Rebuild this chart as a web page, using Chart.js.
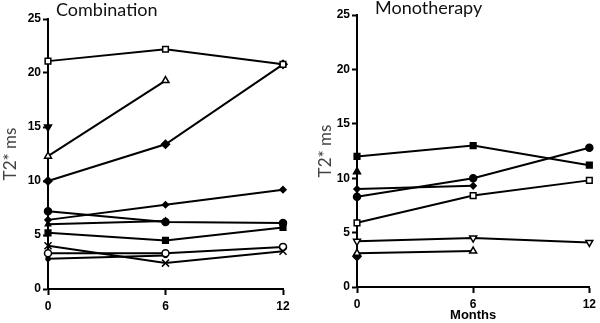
<!DOCTYPE html>
<html>
<head>
<meta charset="utf-8">
<script src="https://cdn.jsdelivr.net/npm/chart.js@4"></script>
<style>
body { margin: 0; background: #fff; width: 600px; height: 323px; overflow: hidden; }
.panel { position: absolute; top: 0; width: 300px; height: 323px; }
</style>
</head>
<body>
<div class="panel" style="left:0"><canvas id="combo-chart" width="300" height="323"></canvas></div>
<div class="panel" style="left:300px"><canvas id="mono-chart" width="300" height="323"></canvas></div>
<script>
// x positions (months)
const months = [0, 6, 12];

// Combination group, T2* ms per patient
const comboOpenSquare = [21.1, 22.2, 20.8];
const comboOpenTriangle = [12.3, 19.3, null];
const comboDownTriangle = [15.0, null, null];
const comboDiamond = [10.0, 13.4, 20.8];
const comboSmallDiamond = [6.4, 7.8, 9.2];
const comboCircle = [7.2, 6.2, 6.1];
const comboSmallTriangle = [6.0, 6.3, null];
const comboSquare = [5.2, 4.5, 5.7];
const comboCross = [4.0, 2.4, 3.5];
const comboOpenCircle = [3.3, 3.3, 3.9];
const comboPlain = [2.8, 3.1, null];

// Monotherapy group
const monoSquare = [12.0, 13.0, 11.2];
const monoCircle = [8.3, 10.0, 12.8];
const monoSmallDiamond = [9.0, 9.3, null];
const monoOpenSquare = [5.9, 8.4, 9.8];
const monoOpenDownTriangle = [4.2, 4.5, 4.1];
const monoOpenTriangle = [3.1, 3.3, null];
const monoTriangle = [10.6, null, null];
const monoDiamond = [2.8, null, null];

const yTicks = [0, 5, 10, 15, 20, 25];

function series(label, values, shape, open, radius, rotation) {
    return {
        label: label,
        data: months.map((m, i) => ({ x: m, y: values[i] })),
        borderColor: '#000',
        borderWidth: 2,
        pointStyle: shape,
        pointRadius: radius || 4,
        pointRotation: rotation || 0,
        pointBorderColor: '#000',
        pointBorderWidth: 1.5,
        pointBackgroundColor: open ? '#fff' : '#000',
        clip: false
    };
}

// draws the panel heading next to the y axis
const panelTitle = {
    id: 'panelTitle',
    afterDraw(chart, args, opts) {
        const ctx = chart.ctx;
        ctx.save();
        ctx.font = opts.font;
        ctx.fillStyle = '#111';
        ctx.textBaseline = 'alphabetic';
        ctx.fillText(opts.text, chart.chartArea.left + opts.dx, opts.y);
        ctx.restore();
    }
};

function makeOptions(title, titleDx, titleY, pad, yWidth, xHeight, xTitle) {
    return {
        responsive: false,
        animation: false,
        layout: { padding: pad },
        plugins: {
            legend: { display: false },
            tooltip: { enabled: false },
            panelTitle: { text: title, dx: titleDx, y: titleY, font: '18px Lato' }
        },
        scales: {
            x: {
                type: 'linear',
                min: 0,
                max: 12,
                ticks: { stepSize: 6, color: '#000', padding: 4, font: { family: 'Liberation Sans', size: 12, weight: 'bold' } },
                grid: { drawOnChartArea: false, tickLength: 6, tickWidth: 2, tickColor: '#000' },
                border: { color: '#000', width: 2 },
                title: {
                    display: !!xTitle,
                    text: xTitle,
                    color: '#000',
                    padding: { top: 3, bottom: 0 },
                    font: { family: 'Liberation Sans', size: 13, weight: 'bold' }
                },
                afterFit(scale) { scale.height = xHeight; }
            },
            y: {
                min: 0,
                max: 25,
                afterBuildTicks(scale) { scale.ticks = yTicks.map(v => ({ value: v })); },
                ticks: { color: '#000', padding: 2, font: { family: 'Liberation Sans', size: 12, weight: 'bold' } },
                grid: { drawOnChartArea: false, tickLength: 5, tickWidth: 2, tickColor: '#000' },
                border: { color: '#000', width: 2 },
                title: {
                    display: true,
                    text: 'T2* ms',
                    color: '#444',
                    padding: 0,
                    font: { family: 'Lato', size: 17 }
                },
                afterFit(scale) { scale.width = yWidth; }
            }
        }
    };
}

new Chart(document.querySelector('#combo-chart').getContext('2d'), {
    type: 'line',
    plugins: [panelTitle],
    data: {
        datasets: [
            series('open square', comboOpenSquare, 'rect', true),
            series('open triangle', comboOpenTriangle, 'triangle', true),
            series('down triangle', comboDownTriangle, 'triangle', false, 4, 180),
            series('diamond', comboDiamond, 'rectRot', false),
            series('small diamond', comboSmallDiamond, 'rectRot', false, 3),
            series('circle', comboCircle, 'circle', false, 3.5),
            series('small triangle', comboSmallTriangle, 'triangle', false, 3),
            series('square', comboSquare, 'rect', false),
            series('cross', comboCross, 'crossRot', false, 5),
            series('open circle', comboOpenCircle, 'circle', true, 3.5),
            series('plain', comboPlain, 'circle', false, 2)
        ]
    },
    options: makeOptions('Combination', 8, 16, { top: 19, right: 17, left: 0, bottom: 0 }, 48, 34, '')
});

new Chart(document.querySelector('#mono-chart').getContext('2d'), {
    type: 'line',
    plugins: [panelTitle],
    data: {
        datasets: [
            series('square', monoSquare, 'rect', false),
            series('circle', monoCircle, 'circle', false, 3.5),
            series('small diamond', monoSmallDiamond, 'rectRot', false, 3),
            series('open square', monoOpenSquare, 'rect', true),
            series('open down triangle', monoOpenDownTriangle, 'triangle', true, 4, 180),
            series('open triangle', monoOpenTriangle, 'triangle', true),
            series('triangle', monoTriangle, 'triangle', false),
            series('diamond', monoDiamond, 'rectRot', false)
        ]
    },
    options: makeOptions('Monotherapy', 18, 14, { top: 15, right: 8, left: 15, bottom: 0 }, 42, 36, 'Months')
});
</script>
</body>
</html>
